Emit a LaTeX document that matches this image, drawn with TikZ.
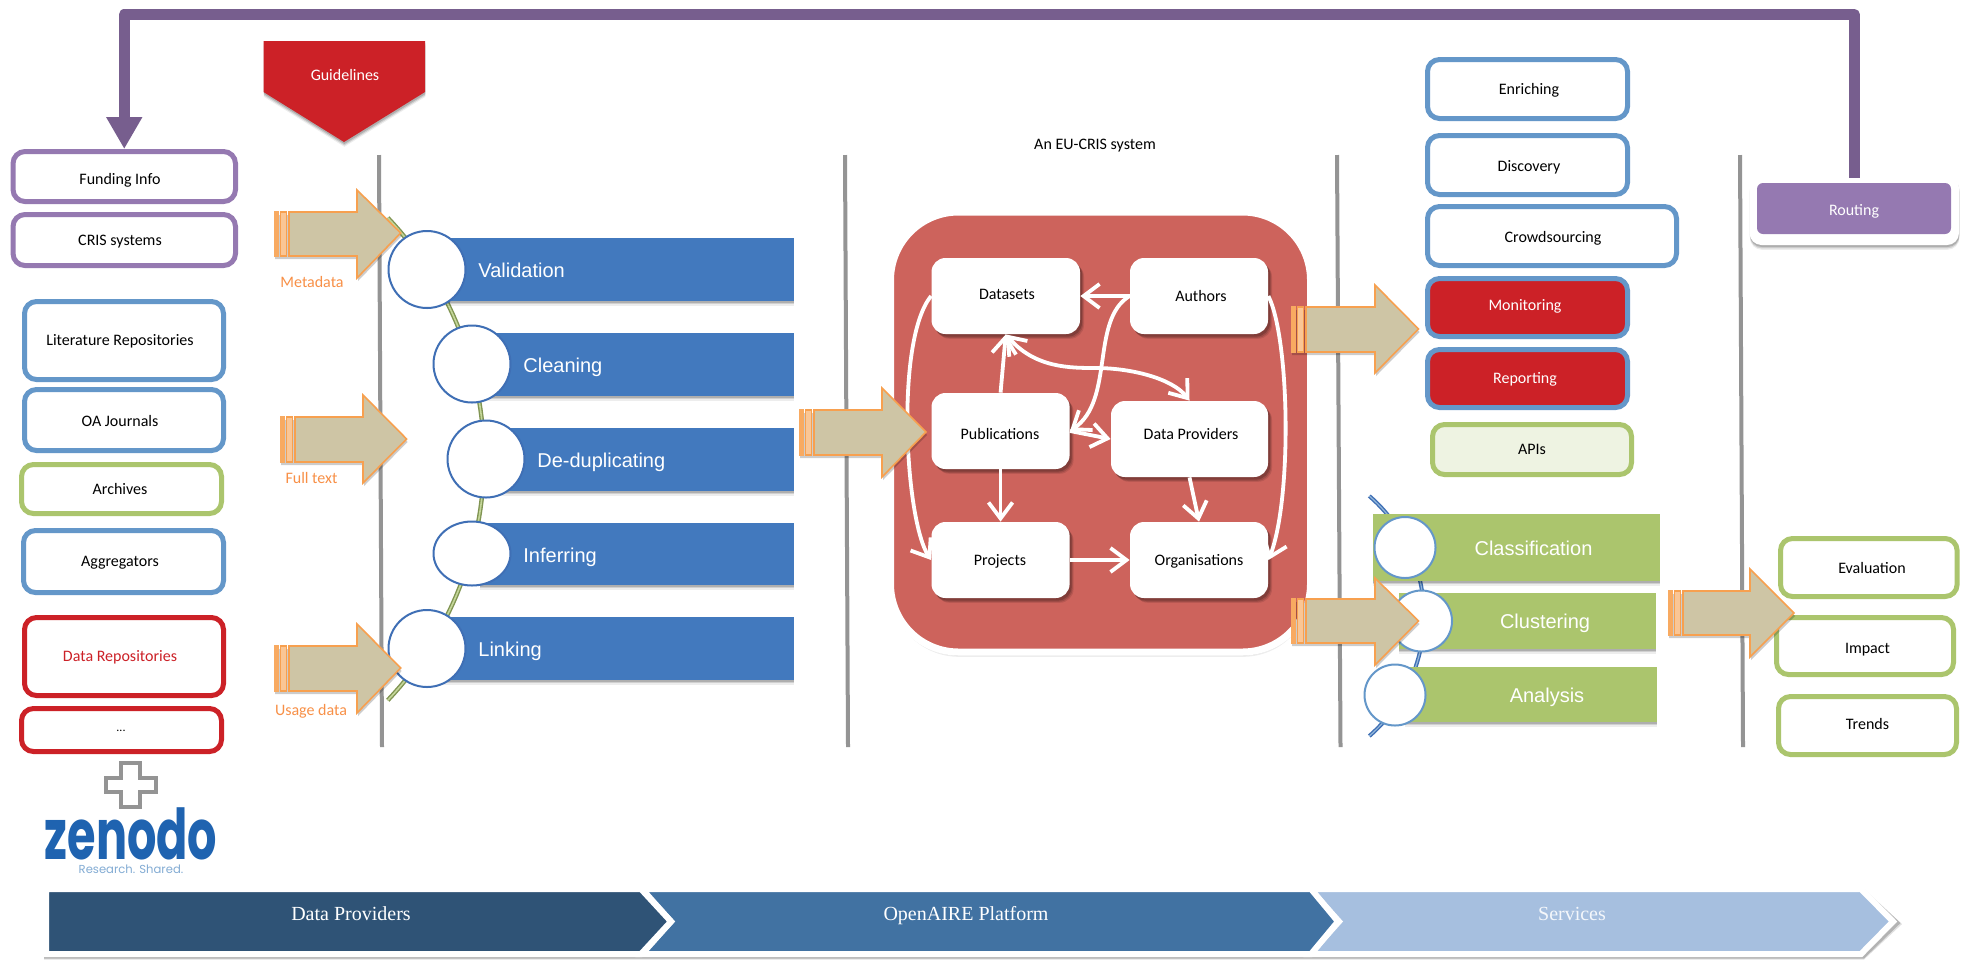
\documentclass[tikz,border=0pt]{standalone}
\usepackage{fontspec}
\setmainfont{Carlito}
\newfontfamily\arialf{Liberation Sans}
\newfontfamily\timesf{Liberation Serif}
\newfontfamily\logof{Poppins}
\usetikzlibrary{arrows.meta,shapes.geometric,shadows}
\definecolor{bandc}{HTML}{775E8E}
\definecolor{purp}{HTML}{9579B1}
\definecolor{blueb}{HTML}{6497C9}
\definecolor{greenb}{HTML}{ABC56D}
\definecolor{redb}{HTML}{CC2127}
\definecolor{barblue}{HTML}{4279BE}
\definecolor{circb}{HTML}{3F6FB5}
\definecolor{panelred}{HTML}{CD635C}
\definecolor{orangeb}{HTML}{F7A04F}
\definecolor{tanf}{HTML}{CEC5A5}
\definecolor{grayl}{HTML}{949494}
\definecolor{chevA}{HTML}{2F5376}
\definecolor{chevB}{HTML}{4172A2}
\definecolor{chevC}{HTML}{A6BFDF}
\definecolor{zenb}{HTML}{1F63B0}
\tikzset{
  softshadow/.style={
    general shadow={shadow xshift=2pt,shadow yshift=-2.4pt,opacity=.10,fill=black},
    general shadow={shadow xshift=1.5pt,shadow yshift=-1.9pt,opacity=.14,fill=black},
    general shadow={shadow xshift=1pt,shadow yshift=-1.3pt,opacity=.18,fill=black}},
  lowshadow/.style={
    general shadow={shadow xshift=.2pt,shadow yshift=-2.4pt,opacity=.07,fill=black},
    general shadow={shadow xshift=.2pt,shadow yshift=-1.7pt,opacity=.12,fill=black},
    general shadow={shadow xshift=.2pt,shadow yshift=-1pt,opacity=.16,fill=black}},
  box/.style={rectangle,rounded corners=6pt,draw,line width=2.5pt,fill=white,inner sep=0pt},
  bluebox/.style={box,draw=blueb},
  greenbox/.style={box,draw=greenb},
  purplebox/.style={box,draw=purp},
  redbox/.style={box,draw=redb},
  alertbox/.style={box,draw=blueb,fill=redb},
  apibox/.style={box,draw=greenb,fill=greenb!20},
  whitenode/.style={rectangle,rounded corners=7pt,fill=white,inner sep=0pt,softshadow},
  bar/.style={rectangle,fill=barblue,inner sep=0pt,lowshadow},
  gbar/.style={rectangle,fill=greenb,inner sep=0pt,lowshadow},
  disc/.style={ellipse,draw=circb,line width=1pt,fill=white,inner sep=0pt},
  gdisc/.style={ellipse,draw=blueb,line width=1pt,fill=white,inner sep=0pt},
  lab/.style={font=\fontsize{8}{9.6}\selectfont,inner sep=0pt,text height=.7em,text depth=.2em,yshift=-.6pt},
  barlab/.style={font=\arialf\fontsize{10}{12}\selectfont,text=white,inner sep=0pt,text height=.7em,text depth=.2em,yshift=-1pt},
  chevlab/.style={font=\timesf\fontsize{10}{12}\selectfont,text=white,inner sep=0pt,text height=.7em,text depth=.2em,yshift=-1pt},
  sep/.style={draw=grayl,line width=2pt},
  link/.style={draw=white,line width=1.9pt,-{Straight Barb[length=8pt,width=12pt,line width=1.9pt]}},
  biglink/.style={draw=white,line width=1.9pt,{Straight Barb[length=8pt,width=12pt,line width=1.9pt]}-{Straight Barb[length=8pt,width=12pt,line width=1.9pt]}},
  band/.style={draw=bandc,line width=5.5pt,line join=round,-{Triangle[length=16pt,width=17pt]}},
  chevron/.style={line width=3pt,draw=white,miter limit=10},
}
\newcommand\mk[9]{%
  \pgfmathsetmacro\bxw{(#5-#3-\bxst)*0.5}%
  \pgfmathsetmacro\bxh{(#6-#4-\bxst)*0.5}%
  \node[#2,minimum width=\bxw pt,minimum height=\bxh pt] (#1) at ({(#3+#5)/2},{(#4+#6)/2}) {};
  \node[lab] (#1-t) at (#7,#8) {#9};
}
\newcommand\bx{\def\bxst{5}\mk}
\newcommand\bz{\def\bxst{0}\mk}
% left, base, tip, shafttop, shaftbot, headtop, headbot, tipy
\newcommand\blockarrow[8]{%
  \fill[black,opacity=.2] ({#1+1},{#4+3}) -- ({#2+1},{#4+3}) -- ({#2+1},{#6+3}) -- ({#3+1},{#8+3}) -- ({#2+1},{#7+3}) -- ({#2+1},{#5+3}) -- ({#1+1},{#5+3}) -- cycle;
  \filldraw[fill=tanf,draw=orangeb,line width=.8pt,line join=miter] ({#1+15},#4) -- (#2,#4) -- (#2,#6) -- (#3,#8) -- (#2,#7) -- (#2,#5) -- ({#1+15},#5) -- cycle;
  \fill[orangeb!90!white] (#1,{#4-.8}) rectangle ({#1+4.5},{#5+.8});
  \filldraw[fill=orangeb!60!white,draw=orangeb,line width=.7pt] ({#1+6.2},#4) rectangle ({#1+12.5},#5);
}
\begin{document}
\begin{tikzpicture}[x=0.5pt,y=-0.5pt]
\useasboundingbox (0,0) rectangle (1968,960);
\fill[white] (0,0) rectangle (1968,960);

% separators
\coordinate (s1a) at (379,155); \coordinate (s1b) at (382,747);
\coordinate (s2a) at (845,155); \coordinate (s2b) at (848,747);
\coordinate (s3a) at (1337,155); \coordinate (s3b) at (1340.5,747);
\coordinate (s4a) at (1740,155); \coordinate (s4b) at (1743,747);
\draw[sep] (s1a) -- (s1b);
\draw[sep] (s2a) -- (s2b);
\draw[sep] (s3a) -- (s3b);
\draw[sep] (s4a) -- (s4b);

% left boxes
\bx{funding}{purplebox}{10.5}{149}{238}{204}{120}{178}{Funding Info}
\bx{cris}{purplebox}{10.5}{212}{238}{268}{120}{239}{CRIS systems}
\bx{lit}{bluebox}{22}{299}{226}{382}{120}{339}{Literature Repositories}
\bx{oa}{bluebox}{22}{387}{226}{453}{120}{420}{OA Journals}
\bx{arch}{greenbox}{19}{462}{224}{516}{120}{488}{Archives}
\bx{aggr}{bluebox}{21}{528}{226}{595}{120}{560}{Aggregators}
\bx{datarep}{redbox}{22}{615}{226}{698}{120}{655}{\textcolor{redb}{Data Repositories}}
\bx{dots}{redbox}{19}{706}{224}{754}{121}{725}{\fontsize{6}{7}\selectfont ...}

% plus and logo
\draw[draw=grayl,line width=2.2pt,line join=miter] (121,763) -- (140,763) -- (140,778) -- (156,778) -- (156,792) -- (140,792) -- (140,807) -- (121,807) -- (121,792) -- (106,792) -- (106,778) -- (121,778) -- cycle;
\node[inner sep=0pt,text=zenb,font=\logof\bfseries\fontsize{35}{35}\selectfont] (zen) at (131,834) {\scalebox{0.66}[1]{zenodo}};
\node[inner sep=0pt,text=blueb!80!white,font=\logof\fontsize{5.8}{7}\selectfont] (zens) at (131,869) {Research. Shared.};

% guidelines
\filldraw[fill=redb,draw=none,lowshadow] (263.5,41) -- (425,41) -- (425,92) -- (344,142) -- (263.5,92) -- cycle;
\node[lab,text=white] (guide) at (345,74) {Guidelines};

% green arc
\draw[draw=greenb!75!black,line width=2.2pt] plot[domain=-43.5:43.5,samples=60] ({133.5+350.5*cos(\x)},{459+350.5*sin(\x)});
\draw[draw=greenb!70!white,line width=.8pt] plot[domain=-43.5:43.5,samples=60] ({133.5+350.5*cos(\x)},{459+350.5*sin(\x)});

% blue bars
\bz{bval}{bar}{440}{238}{794}{301}{478}{270}{}
\bz{bcle}{bar}{480}{333}{794}{396}{523}{365}{}
\bz{bded}{bar}{490}{428}{794}{491}{537}{460}{}
\bz{binf}{bar}{480}{523}{794}{585}{523}{555}{}
\bz{blin}{bar}{440}{617}{794}{680}{478}{649}{}
\node[disc,minimum width=38.5pt,minimum height=38.5pt] (cval) at (427,269.5) {};
\node[disc,minimum width=38.5pt,minimum height=38.5pt] (ccle) at (472,364) {};
\node[disc,minimum width=38.5pt,minimum height=38.5pt] (cded) at (486,459) {};
\node[disc,minimum width=38.5pt,minimum height=32pt] (cinf) at (472,553.5) {};
\node[disc,minimum width=38.5pt,minimum height=38.5pt] (clin) at (427,648.5) {};
\node[barlab,anchor=west] (tval) at (478,270) {Validation};
\node[barlab,anchor=west] (tcle) at (523,365) {Cleaning};
\node[barlab,anchor=west] (tded) at (537,460) {De-duplicating};
\node[barlab,anchor=west] (tinf) at (523,555) {Inferring};
\node[barlab,anchor=west] (tlin) at (478,649) {Linking};

% red panel
\node[rectangle,rounded corners=34pt,fill=panelred,draw=white,line width=3.5pt,lowshadow,inner sep=0pt,minimum width=210pt,minimum height=220pt] (panel) at (1100.5,432) {};
\node[lab] (eucris) at (1095,143) {An EU-CRIS system};

\bz{datasets}{whitenode}{931.5}{258}{1080}{334}{1007}{293}{Datasets}
\bz{authors}{whitenode}{1130}{258}{1268}{334}{1201}{295}{Authors}
\bz{pubs}{whitenode}{931.5}{393}{1069.6}{469}{1000}{433}{Publications}
\bz{dprov}{whitenode}{1111}{401}{1268}{477}{1191}{433}{Data Providers}
\bz{projects}{whitenode}{931.5}{522}{1069.6}{598}{1000}{559}{Projects}
\bz{orgs}{whitenode}{1130}{522}{1268}{598}{1199}{559}{Organisations}

\draw[link] (authors.west) -- (datasets.east);
\draw[link] (authors.west) .. controls (1090,320) and (1115,400) .. (pubs.east);
\draw[link] (pubs.north) -- (datasets.south);
\draw[biglink] (datasets.south) .. controls (1035,368) and (1070,368) .. (1096,368) .. controls (1130,368) and (1172,378) .. (dprov.north);
\draw[link] (pubs.south) -- (projects.north);
\draw[link] (dprov.south) -- (orgs.north);
\draw[link] (projects.east) -- (orgs.west);
\draw[link] (pubs.east) -- (dprov.west);
\draw[link] (datasets.west) .. controls (895,340) and (905,520) .. (projects.west);
\draw[link] (authors.east) .. controls (1290,340) and (1292,500) .. (orgs.east);

% right column
\bx{enrich}{bluebox}{1425}{57}{1630}{121}{1529}{88}{Enriching}
\bx{disco}{bluebox}{1425}{133}{1630}{197}{1529}{165}{Discovery}
\bx{crowd}{bluebox}{1425}{204}{1679}{268}{1553}{236}{Crowdsourcing}
\bx{monit}{alertbox}{1425}{276}{1630}{339}{1525}{304}{\textcolor{white}{Monitoring}}
\bx{report}{alertbox}{1425}{347}{1630}{410}{1525}{377}{\textcolor{white}{Reporting}}
\bx{apis}{apibox}{1430}{422}{1634}{477}{1532}{448}{APIs}

% blue arc
\draw[draw=circb,line width=2pt] plot[domain=-49:49,samples=50] ({1265+159*cos(\x)},{616+159*sin(\x)});
\draw[draw=blueb!70!white,line width=.6pt] plot[domain=-49:49,samples=50] ({1265+159*cos(\x)},{616+159*sin(\x)});

% green bars
\bz{gcla}{gbar}{1373}{514}{1660}{581}{1533.5}{548}{}
\bz{gclu}{gbar}{1399}{593}{1656}{649}{1545}{621}{}
\bz{gana}{gbar}{1405}{667}{1657}{722}{1547}{695}{}
\node[gdisc,minimum width=30.5pt,minimum height=30.5pt] (ccla) at (1405,547.5) {};
\node[gdisc,minimum width=30.5pt,minimum height=30.5pt] (cclu) at (1421.5,621) {};
\node[gdisc,minimum width=30.5pt,minimum height=30.5pt] (cana) at (1395,695) {};
\node[barlab] (tcla) at (1533.5,548) {Classification};
\node[barlab] (tclu) at (1545,621) {Clustering};
\node[barlab] (tana) at (1547,695) {Analysis};

% right boxes
\bx{evalb}{greenbox}{1778}{536}{1959.6}{599}{1872}{567}{Evaluation}
\bx{impact}{greenbox}{1774}{615}{1956}{677}{1867.5}{647}{Impact}
\bx{trends}{greenbox}{1776}{694}{1959}{757}{1867.5}{723}{Trends}

% routing
\node[rectangle,rounded corners=6pt,fill=white,lowshadow,inner sep=0pt,minimum width=104.75pt,minimum height=34.5pt] (routepanel) at (1854.25,210.5) {};
\bz{routing}{rectangle,rounded corners=3pt,fill=purp,inner sep=0pt}{1757}{183}{1951}{234}{1854}{209}{\textcolor{white}{Routing}}

% feedback band
\coordinate (bendR) at (1854.25,14.5);
\coordinate (bendL) at (124.25,14.5);
\draw[band] ([yshift=-1pt]routepanel.north) -- (bendR) -- (bendL) -- (funding.north);

% chevrons
\fill[black,opacity=.12] (44,889) -- (1864,889) -- (1902,924) -- (1864,959.5) -- (44,959.5) -- cycle;
\fill[black,opacity=.2] (44,889) -- (1864,889) -- (1900.5,923) -- (1864,958.5) -- (44,958.5) -- cycle;
\path[chevron,fill=chevC] (1310,889) -- (1861,889) -- (1893,921.5) -- (1861,954) -- (1310,954) -- (1339,921.5) -- cycle;
\path[chevron,fill=chevB] (642,889) -- (1311,889) -- (1338,921.5) -- (1311,954) -- (642,954) -- (671,921.5) -- cycle;
\path[chevron,fill=chevA] (46,889) -- (641,889) -- (671,921.5) -- (641,954) -- (46,954) -- cycle;
\node[chevlab] (cv1) at (351,913) {Data Providers};
\node[chevlab] (cv2) at (966,913) {OpenAIRE Platform};
\node[chevlab,text=white!88!chevC] (cv3) at (1572,913) {Services};

% block arrows
\blockarrow{274}{357}{400.7}{212}{256}{190}{278}{233}
\blockarrow{280}{363}{406.6}{417}{462}{395}{483}{439}
\blockarrow{274}{357}{400.7}{646}{691}{624}{713}{668}
\blockarrow{799}{882}{926}{410}{455}{388}{477}{432}
\blockarrow{1291}{1375}{1418.5}{307}{352}{285}{373}{329}
\blockarrow{1291}{1375}{1418.5}{599}{643}{578}{665}{621}
\blockarrow{1668}{1750}{1794}{591}{635}{569}{657}{613}
\node[lab,text=orangeb!90!red] (lm) at (312,281) {Metadata};
\node[lab,text=orangeb!90!red] (lf) at (311.5,477) {Full text};
\node[lab,text=orangeb!90!red] (lu) at (311,709) {Usage data};
\end{tikzpicture}
\end{document}
